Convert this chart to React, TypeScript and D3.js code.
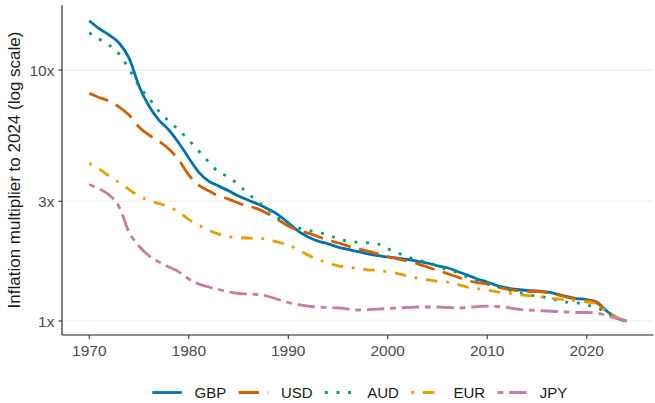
import React from "react";
import * as d3 from "d3";

const years = [
  1970, 1971, 1972, 1973, 1974, 1975, 1976, 1977, 1978, 1979,
  1980, 1981, 1982, 1983, 1984, 1985, 1986, 1987, 1988, 1989,
  1990, 1991, 1992, 1993, 1994, 1995, 1996, 1997, 1998, 1999,
  2000, 2001, 2002, 2003, 2004, 2005, 2006, 2007, 2008, 2009,
  2010, 2011, 2012, 2013, 2014, 2015, 2016, 2017, 2018, 2019,
  2020, 2021, 2022, 2023, 2024,
];

const gbp = [
  15.72, 14.63, 13.79, 12.81, 11.16, 8.64, 7.19, 6.32, 5.77, 5.12,
  4.46, 3.92, 3.61, 3.45, 3.3, 3.15, 3.03, 2.92, 2.79, 2.65,
  2.46, 2.28, 2.16, 2.08, 2.03, 1.97, 1.93, 1.89, 1.85, 1.82,
  1.8, 1.78, 1.76, 1.73, 1.7, 1.66, 1.63, 1.575, 1.525, 1.47,
  1.43, 1.385, 1.354, 1.335, 1.323, 1.319, 1.305, 1.281, 1.252, 1.229,
  1.218, 1.19, 1.096, 1.028, 1.0,
];

const usd = [
  8.08, 7.77, 7.52, 7.12, 6.62, 5.93, 5.51, 5.21, 4.85, 4.38,
  3.82, 3.48, 3.3, 3.15, 3.06, 2.95, 2.87, 2.79, 2.67, 2.53,
  2.39, 2.3, 2.24, 2.17, 2.1, 2.05, 1.99, 1.94, 1.9, 1.85,
  1.8, 1.77, 1.73, 1.69, 1.64, 1.59, 1.546, 1.497, 1.45, 1.423,
  1.404, 1.366, 1.341, 1.323, 1.311, 1.311, 1.299, 1.275, 1.246, 1.224,
  1.207, 1.18, 1.096, 1.033, 1.0,
];

const aud = [
  14.08, 13.29, 12.58, 11.58, 10.09, 8.64, 7.73, 6.86, 6.26, 5.77,
  5.26, 4.76, 4.3, 3.92, 3.75, 3.48, 3.21, 2.98, 2.77, 2.57,
  2.44, 2.35, 2.3, 2.26, 2.2, 2.13, 2.08, 2.06, 2.05, 2.03,
  1.94, 1.87, 1.8, 1.75, 1.71, 1.66, 1.6, 1.56, 1.497, 1.457,
  1.423, 1.372, 1.335, 1.305, 1.275, 1.258, 1.24, 1.212, 1.19, 1.18,
  1.158, 1.132, 1.076, 1.025, 1.0,
];

const eur = [
  4.25, 4.03, 3.78, 3.56, 3.34, 3.15, 3.02, 2.94, 2.85, 2.72,
  2.54, 2.41, 2.3, 2.22, 2.17, 2.15, 2.14, 2.14, 2.11, 2.06,
  2.01, 1.92, 1.83, 1.76, 1.7, 1.66, 1.64, 1.62, 1.6, 1.59,
  1.57, 1.546, 1.51, 1.48, 1.46, 1.44, 1.43, 1.398, 1.366, 1.347,
  1.329, 1.307, 1.293, 1.275, 1.264, 1.252, 1.24, 1.224, 1.212, 1.201,
  1.19, 1.169, 1.086, 1.028, 1.0,
];

const jpy = [
  3.5, 3.36, 3.18, 2.85, 2.26, 1.99, 1.82, 1.72, 1.64, 1.57,
  1.47, 1.404, 1.366, 1.335, 1.305, 1.287, 1.281, 1.275, 1.252, 1.218,
  1.185, 1.163, 1.147, 1.137, 1.132, 1.127, 1.116, 1.106, 1.111, 1.116,
  1.121, 1.127, 1.132, 1.137, 1.137, 1.137, 1.132, 1.127, 1.132, 1.142,
  1.147, 1.142, 1.132, 1.116, 1.106, 1.101, 1.096, 1.091, 1.086, 1.081,
  1.081, 1.076, 1.052, 1.023, 1.0,
];

const seriesNames = ["GBP", "USD", "AUD", "EUR", "JPY"];
const seriesValues = [gbp, usd, aud, eur, jpy];
const seriesColors = ["#0072B2", "#D55E00", "#009E73", "#E69F00", "#CC79A7"];
const seriesDashes = ["none", "20.3 8.7", "2.9 8.7", "2.9 8.7 11.6 8.7", "5.8 5.8 17.4 5.8"];

const xTicks = [1970, 1980, 1990, 2000, 2010, 2020];
const yTicks = [1, 3, 10];
const yTickLabels = ["1x", "3x", "10x"];
const yTitle = "Inflation multiplier to 2024 (log scale)";

const W = 655;
const H = 403;
const FONT = "'Liberation Sans', Arial, Helvetica, sans-serif";

export default function App() {
  const left = 62.4;
  const right = 653.4;
  const top = 5;
  const bottom = 335;

  const x = d3.scaleLinear().domain([1967.3, 2026.7]).range([left, right]);
  const y = d3.scaleLog().domain([0.8795, 18.16]).range([bottom, top]);

  const line = d3
    .line<[number, number]>()
    .x((d) => x(d[0]))
    .y((d) => y(d[1]))
    .curve(d3.curveMonotoneX);

  const legendX = d3
    .scaleLinear()
    .domain([0, seriesNames.length - 1])
    .range([152.3, 152.3 + 86.3 * (seriesNames.length - 1)]);
  const legendY = 392.5;
  const keyW = 29.5;

  return (
    <svg
      width={W}
      height={H}
      style={{ position: "absolute", left: 0, top: 0, background: "#fff" }}
      fontFamily={FONT}
    >
      <rect x={0} y={0} width={W} height={H} fill="#fff" />
      {yTicks.map((t) => (
        <line
          key={"g" + t}
          x1={left}
          x2={right}
          y1={y(t)}
          y2={y(t)}
          stroke="#EBEBEB"
          strokeWidth={1.2}
        />
      ))}

      {seriesValues.map((vals, i) => (
        <path
          key={seriesNames[i]}
          d={line(years.map((yr, j) => [yr, vals[j]] as [number, number])) || ""}
          fill="none"
          stroke={seriesColors[i]}
          strokeWidth={2.8}
          strokeDasharray={seriesDashes[i]}
          strokeLinecap="butt"
          strokeLinejoin="round"
        />
      ))}

      <line x1={left - 0.4} x2={left - 0.4} y1={top} y2={bottom} stroke="#1a1a1a" strokeWidth={1.1} />
      <line x1={left - 0.4} x2={right} y1={bottom} y2={bottom} stroke="#1a1a1a" strokeWidth={1.1} />

      {yTicks.map((t, i) => (
        <g key={"yt" + t}>
          <line x1={left - 4} x2={left} y1={y(t)} y2={y(t)} stroke="#333" strokeWidth={1.1} />
          <text
            x={left - 8}
            y={y(t)}
            dy="0.36em"
            textAnchor="end"
            fontSize={15.5}
            fill="#4D4D4D"
          >
            {yTickLabels[i]}
          </text>
        </g>
      ))}

      {xTicks.map((t) => (
        <g key={"xt" + t}>
          <line x1={x(t)} x2={x(t)} y1={bottom} y2={bottom + 4} stroke="#333" strokeWidth={1.1} />
          <text x={x(t)} y={355.5} textAnchor="middle" fontSize={15.5} fill="#4D4D4D">
            {t}
          </text>
        </g>
      ))}

      <text
        transform={`translate(20,170) rotate(-90)`}
        textAnchor="middle"
        fontSize={17}
        fill="#1a1a1a"
      >
        {yTitle}
      </text>

      {seriesNames.map((name, i) => {
        const kx = legendX(i);
        return (
          <g key={"lg" + name}>
            <line
              x1={kx}
              x2={kx + keyW}
              y1={legendY}
              y2={legendY}
              stroke={seriesColors[i]}
              strokeWidth={2.8}
              strokeDasharray={seriesDashes[i]}
              strokeLinecap="butt"
            />
            <text x={kx + 42.3} y={legendY + 5.6} fontSize={15} fill="#1a1a1a">
              {name}
            </text>
          </g>
        );
      })}
    </svg>
  );
}
